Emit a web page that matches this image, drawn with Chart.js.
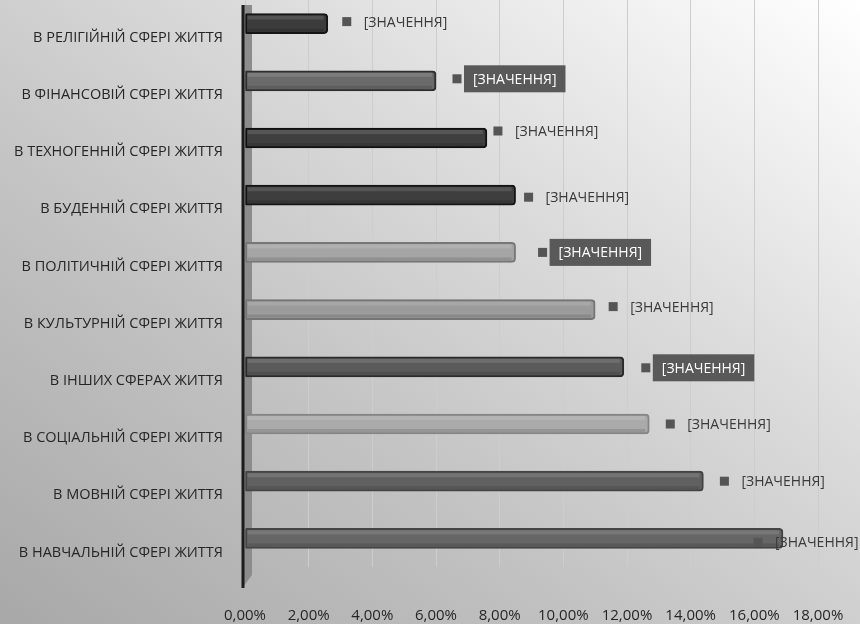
<!DOCTYPE html>
<html>
<head>
<meta charset="utf-8">
<script src="https://cdn.jsdelivr.net/npm/chart.js@4"></script>
<style>
  html, body { margin: 0; padding: 0; }
  body {
    width: 860px; height: 624px; overflow: hidden; position: relative;
    background: linear-gradient(to bottom left, #ffffff 0%, #dcdcdc 35%, #c2c2c2 65%, #a8a8a8 100%);
  }
  #wrap { position: absolute; left: 0; top: -5px; width: 860px; height: 629px; }
</style>
</head>
<body>
<div id="wrap"><canvas id="chart"></canvas></div>
<script>
// categorias (de arriba hacia abajo)
var categories = [
  'В РЕЛІГІЙНІЙ СФЕРІ ЖИТТЯ',
  'В ФІНАНСОВІЙ СФЕРІ ЖИТТЯ',
  'В ТЕХНОГЕННІЙ СФЕРІ ЖИТТЯ',
  'В БУДЕННІЙ СФЕРІ ЖИТТЯ',
  'В ПОЛІТИЧНІЙ СФЕРІ ЖИТТЯ',
  'В КУЛЬТУРНІЙ СФЕРІ ЖИТТЯ',
  'В ІНШИХ СФЕРАХ ЖИТТЯ',
  'В СОЦІАЛЬНІЙ СФЕРІ ЖИТТЯ',
  'В МОВНІЙ СФЕРІ ЖИТТЯ',
  'В НАВЧАЛЬНІЙ СФЕРІ ЖИТТЯ'
];
// valores en %
var values = [2.6, 6.0, 7.6, 8.5, 8.5, 11.0, 11.9, 12.7, 14.4, 16.9];
var xTicks = [0, 2, 4, 6, 8, 10, 12, 14, 16, 18];
var valueLabel = '[ЗНАЧЕННЯ]';

// estilos de cada barra
var barColors = ['#3b3b3b', '#6a6a6a', '#3f3f3f', '#3e3e3e', '#a5a5a5', '#9b9b9b', '#5b5b5b', '#aaaaaa', '#616161', '#666666'];
var barBorders = ['#151515', '#2e2e2e', '#111111', '#151515', '#777777', '#747474', '#2a2a2a', '#858585', '#444444', '#444444'];
var labelDx = [19, 21, 11, 13, 27, 18, 22, 21, 21, -25];
var labelDy = [-2, -2, -7, 2, 0, -3, 1, 0, 0, 4];
var labelBoxed = [false, true, false, false, true, false, true, false, false, false];

var FONT = "'Open Sans', sans-serif";

// pared 3D a la izquierda
var wallPlugin = {
  id: 'wall',
  beforeDatasetsDraw: function(chart) {
    var ctx = chart.ctx, a = chart.chartArea;
    var x = a.left - 2;
    ctx.save();
    ctx.fillStyle = '#8c8c8c';
    ctx.beginPath();
    ctx.moveTo(x, a.top + 10);
    ctx.lineTo(x + 9, a.top + 10);
    ctx.lineTo(x + 9, a.bottom + 8);
    ctx.lineTo(x, a.bottom + 20);
    ctx.closePath();
    ctx.fill();
    ctx.strokeStyle = '#1c1c1c';
    ctx.lineWidth = 3;
    ctx.beginPath();
    ctx.moveTo(x, a.top + 10);
    ctx.lineTo(x, a.bottom + 21);
    ctx.stroke();
    ctx.restore();
  }
};

// etiquetas de datos + brillo de las barras
var labelsPlugin = {
  id: 'valueLabels',
  afterDatasetsDraw: function(chart) {
    var ctx = chart.ctx;
    var meta = chart.getDatasetMeta(0);
    ctx.save();
    meta.data.forEach(function(bar) {
      var h = bar.height;
      ctx.fillStyle = 'rgba(255,255,255,0.12)';
      ctx.fillRect(bar.base + 2, bar.y - h / 2 + 2, bar.x - bar.base - 6, 4);
      ctx.fillStyle = 'rgba(0,0,0,0.12)';
      ctx.fillRect(bar.base + 2, bar.y + h / 2 - 5, bar.x - bar.base - 6, 3);
    });
    ctx.font = '14px ' + FONT;
    ctx.textBaseline = 'middle';
    meta.data.forEach(function(bar, i) {
      var cx = bar.x + labelDx[i];
      var cy = bar.y + labelDy[i];
      ctx.fillStyle = '#555555';
      ctx.fillRect(cx - 4.5, cy - 4.5, 9, 9);
      var w = ctx.measureText(valueLabel).width;
      if (labelBoxed[i]) {
        ctx.fillStyle = '#595959';
        ctx.fillRect(cx + 7, cy - 13.5, w + 18, 27);
        ctx.fillStyle = '#ffffff';
        ctx.fillText(valueLabel, cx + 16, cy + 1);
      } else {
        ctx.fillStyle = '#3a3a3a';
        ctx.fillText(valueLabel, cx + 17, cy + 1);
      }
    });
    ctx.restore();
  }
};

new Chart(document.getElementById('chart'), {
  type: 'bar',
  data: {
    labels: categories,
    datasets: [{
      data: values,
      backgroundColor: barColors,
      borderColor: barBorders,
      borderWidth: 2,
      borderSkipped: false,
      borderRadius: { topLeft: 1, bottomLeft: 1, topRight: 4, bottomRight: 4 },
      barThickness: 20
    }]
  },
  options: {
    indexAxis: 'y',
    responsive: true,
    maintainAspectRatio: false,
    animation: false,
    layout: { padding: { left: 0, right: 42, top: 0, bottom: 0 } },
    plugins: { legend: { display: false }, tooltip: { enabled: false } },
    scales: {
      x: {
        min: 0,
        max: 18,
        afterBuildTicks: function(axis) {
          axis.ticks = xTicks.map(function(v) { return { value: v }; });
        },
        afterFit: function(axis) {
          axis.height = 57;
          axis.paddingLeft = 0;
          axis.paddingRight = 0;
        },
        grid: { color: '#cdcdcd', lineWidth: 1, drawTicks: false },
        border: { display: false },
        ticks: {
          padding: 40,
          color: '#262626',
          font: { family: FONT, size: 15 },
          callback: function(v) { return v.toFixed(2).replace('.', ',') + '%'; }
        }
      },
      y: {
        afterFit: function(axis) {
          axis.width = 245;
          axis.paddingTop = 0;
          axis.paddingBottom = 0;
        },
        grid: { display: false, drawTicks: false },
        border: { display: false },
        ticks: {
          padding: 22,
          labelOffset: 14,
          color: '#262626',
          font: { family: FONT, size: 14.5 }
        }
      }
    }
  },
  plugins: [wallPlugin, labelsPlugin]
});
</script>
</body>
</html>
